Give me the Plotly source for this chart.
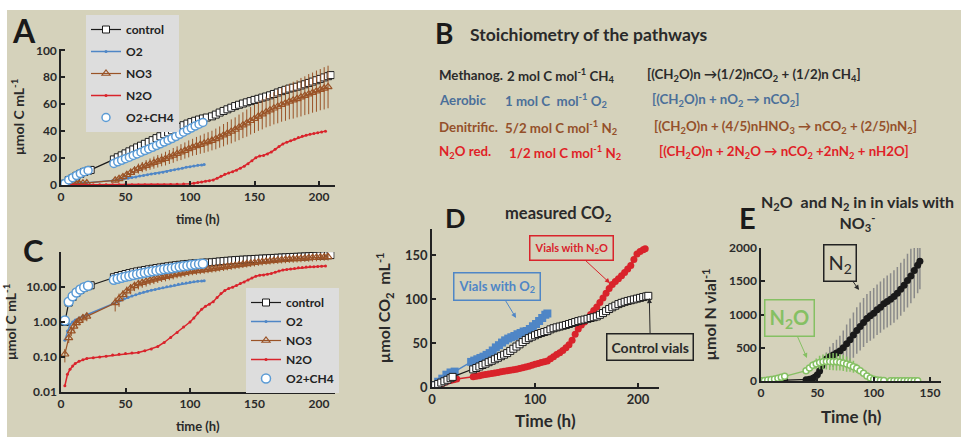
import plotly.graph_objects as go

# ---------------- Panels A and C: cumulative C (µmol C mL-1) ----------------
ctrl_t = [3, 6, 9, 12, 15, 18, 21, 23,
          41, 44, 47, 50, 53, 56, 59, 62, 65, 68, 71, 74, 77, 80, 83, 86, 89, 92, 95, 98,
          101, 104, 107, 110, 113, 117, 120, 123, 126, 129, 132, 135, 138, 141, 144, 147,
          150, 153, 156, 159, 162, 165, 168, 171, 174, 177, 180, 183, 186, 189, 192, 195,
          198, 201, 204, 207, 209]
ctrl_v = [1.0, 3.6, 5.2, 6.8, 8.3, 9.7, 10.6, 11.2,
          19.0, 20.6, 22.0, 23.5, 25.0, 26.4, 27.9, 29.2, 30.6, 32.0, 33.3, 34.8, 36.2, 37.7,
          39.0, 40.6, 42.0, 43.2, 44.4, 45.6, 46.7, 47.7, 48.6, 49.4, 50.1, 51.0, 52.3, 53.8,
          55.0, 56.2, 57.4, 58.6, 59.6, 60.5, 61.4, 62.3, 63.2, 64.0, 64.9, 65.7, 66.6, 67.6,
          68.7, 69.7, 70.7, 71.6, 72.3, 73.0, 73.9, 74.8, 75.8, 76.8, 77.8, 78.8, 79.9, 80.8,
          81.6]

o2_t = [3, 5, 7, 9, 11, 14, 17, 20,
        40, 43, 46, 49, 52, 55, 58, 61, 64, 67, 70, 73, 76, 79, 82, 85, 88, 91, 94, 97,
        100, 103, 106, 109, 111]
o2_v = [0.3, 0.55, 0.85, 1.0, 1.15, 1.3, 1.45, 1.6,
        3.4, 3.7, 4.1, 4.6, 5.0, 5.5, 6.0, 6.6, 7.1, 7.6, 8.1, 8.5, 9.0, 9.5, 10.1, 10.7,
        11.3, 11.9, 12.5, 13.1, 13.6, 14.1, 14.6, 14.9, 15.2]

no3_t = [3, 6, 8, 10, 12, 14, 17, 20,
         42, 45, 48, 51, 54, 57, 60, 63, 66, 69, 72, 75, 78, 81, 84, 87, 90, 93, 96, 99,
         102, 105, 108, 111, 114, 117, 120, 123, 126, 129, 132, 135, 138, 141, 144, 147,
         150, 153, 156, 159, 162, 165, 168, 171, 174, 177, 180, 183, 186, 189, 192, 195,
         198, 201, 204, 207]
no3_v = [0.12, 0.35, 0.55, 0.75, 0.95, 1.1, 1.3, 1.45,
         3.5, 4.6, 6.0, 7.6, 9.2, 10.8, 12.2, 13.3, 14.4, 15.5, 16.6, 17.6, 18.6, 19.6,
         20.8, 22.0, 23.2, 24.4, 25.6, 26.8, 28.0, 29.0, 30.0, 31.0, 32.0, 33.0, 34.2, 35.6,
         37.0, 38.4, 39.8, 41.2, 42.8, 44.4, 46.0, 47.7, 49.3, 51.0, 52.6, 54.2, 55.6, 57.0,
         58.3, 59.6, 60.8, 62.0, 63.0, 64.0, 65.2, 66.3, 67.5, 68.6, 69.7, 70.8, 71.8, 72.8]
no3_err = [0.05, 0.1, 0.15, 0.2, 0.25, 0.3, 0.35, 0.4,
           1.5, 1.9, 2.1, 2.7, 3.0, 3.2, 3.7, 3.8, 4.1, 4.2, 4.5, 4.6, 4.7, 5.1, 5.2, 5.5,
           5.5, 5.9, 6.0, 6.3, 6.3, 6.7, 6.8, 7.1, 7.2, 7.3, 7.7, 7.9, 8.3, 8.4, 8.9, 9.0,
           9.5, 9.6, 10.1, 10.2, 10.7, 10.8, 11.3, 11.4, 11.9, 12.0, 12.5, 12.6, 13.1, 13.2,
           13.7, 13.8, 14.3, 14.4, 14.9, 14.9, 15.3, 15.3, 15.7, 15.8]

n2o_t = [3, 5, 7, 9, 11, 14, 17, 20,
         25, 30, 35, 40, 45, 50, 55, 60, 65, 70, 75, 80, 85, 90, 95, 100,
         103, 106, 109, 112, 115, 118, 121, 124, 127, 130, 133, 136, 139, 142, 145, 148,
         151, 154, 157, 160, 163, 166, 169, 172, 175, 178, 181, 184, 187, 190, 193, 196,
         199, 202, 205]
n2o_v = [0.015, 0.032, 0.045, 0.055, 0.065, 0.075, 0.083, 0.09,
         0.095, 0.1, 0.105, 0.115, 0.12, 0.125, 0.13, 0.135, 0.15, 0.17, 0.2, 0.26, 0.36,
         0.5, 0.72, 1.0,
         1.3, 1.8, 2.3, 2.8, 3.2, 3.8, 5.0, 6.5, 8.0, 9.0, 9.8, 11.0, 12.5, 14.0, 15.8, 18.0,
         20.3, 21.5, 22.0, 23.0, 24.5, 26.5, 28.5, 30.5, 31.8, 32.8, 34.0, 35.2, 36.2, 37.0,
         37.6, 38.2, 38.8, 39.3, 40.0]

o2ch4_t = [3, 6, 9, 12, 15, 18, 21,
           41, 44, 47, 50, 53, 56, 59, 62, 65, 68, 71, 74, 77, 80, 83, 86, 89, 92, 95, 98,
           101, 104, 107, 110]
o2ch4_v = [1.1, 3.8, 5.4, 7.0, 8.5, 9.9, 10.8,
           16.0, 17.2, 18.3, 19.5, 20.6, 21.9, 23.1, 24.4, 25.6, 26.8, 28.0, 29.3, 30.6,
           31.9, 33.2, 34.5, 36.0, 37.6, 39.2, 40.8, 42.3, 43.8, 45.2, 46.5]

# ---------------- Panel D: measured CO2 (µmol CO2 mL-1) ----------------
d_ctrl_t = [3, 6, 9, 12, 15, 18, 20,
            40, 43, 46, 49, 52, 55, 58, 61, 64, 67, 70, 73, 76, 79, 82, 85, 88, 91, 94, 97,
            100, 103, 106, 109, 112, 115, 118, 121, 124, 127, 130, 133, 136, 139, 142, 145,
            148, 151, 154, 157, 160, 163, 166, 169, 172, 175, 178, 181, 184, 187, 190, 193,
            196, 199, 202, 205, 208, 210]
d_ctrl_v = [2.0, 3.5, 5.0, 6.5, 8.2, 10.0, 11.5,
            20.0, 21.6, 23.3, 25.0, 26.5, 28.2, 29.8, 31.5, 33.2, 35.0, 36.7, 38.5, 41.0,
            43.5, 46.0, 48.5, 51.0, 53.5, 55.5, 57.2, 58.8, 60.2, 61.4, 62.5, 63.5, 65.5,
            66.8, 67.8, 68.7, 69.6, 70.5, 71.6, 72.7, 73.8, 74.9, 75.8, 76.6, 77.5, 78.4,
            79.3, 80.2, 82.0, 84.0, 86.2, 88.6, 90.6, 92.4, 94.2, 95.6, 96.8, 97.8, 98.6,
            99.5, 100.4, 101.3, 102.2, 103.0, 103.6]

d_o2_t = [2, 6, 10, 14, 18, 22,
          38, 41, 44, 47, 50, 53, 56, 59, 62, 65, 68, 71, 74, 77, 80, 83, 86, 89, 92, 95,
          98, 101, 104, 107, 110, 112]
d_o2_v = [2.3, 6.0, 9.5, 14.0, 16.5, 17.5,
          28.5, 30.0, 31.5, 33.0, 34.5, 36.5, 38.5, 41.5, 45.0, 47.5, 50.5, 53.0, 55.0,
          56.5, 58.0, 60.0, 61.5, 63.0, 63.5, 66.0, 69.0, 71.5, 75.0, 78.5, 82.0, 83.5]

d_n2o_t = [3, 6, 9, 12, 15, 18, 21, 24,
           40, 43, 46, 49, 52, 55, 58, 61, 64, 67, 70, 73, 76, 79, 82, 85, 88, 91, 94, 97,
           100, 103, 106, 109, 112, 115, 118, 121, 124, 127, 130, 133, 136, 139, 142, 145,
           148, 151, 154, 157, 160, 163, 166, 169, 172, 175, 178, 181, 184, 187, 190, 193,
           196, 199, 202, 205, 207]
d_n2o_v = [0.5, 2.0, 3.5, 5.0, 6.5, 7.5, 8.3, 9.0,
           11.7, 12.3, 12.9, 13.5, 14.1, 14.8, 15.4, 16.0, 16.6, 17.2, 17.8, 18.4, 19.0,
           19.6, 20.3, 21.0, 21.8, 22.7, 23.7, 24.8, 25.8, 26.8, 27.8, 28.6, 29.5, 32.0,
           34.5, 36.8, 39.0, 41.5, 44.5, 48.0, 53.0, 60.0, 66.0, 70.5, 74.0, 78.0, 82.5,
           87.0, 91.0, 96.0, 101.0, 106.5, 112.0, 116.5, 120.0, 123.0, 126.5, 130.0, 134.0,
           138.0, 145.0, 151.0, 154.0, 156.0, 157.0]

# ---------------- Panel E: N2O and N2 in vials with NO3- (µmol N vial-1) ----------------
e_n2_t = [0, 3, 6, 9, 12, 15, 18, 21,
          40, 43, 46, 48, 50, 52, 54, 56, 58,
          61, 64, 67, 70, 73, 76, 79, 82, 85, 88, 91, 94, 97, 100, 103, 106, 109, 112, 115,
          118, 121, 124, 127, 130, 133, 136, 139, 141]
e_n2_v = [0, 2, 4, 6, 8, 10, 12, 14,
          20, 25, 40, 60, 95, 150, 230, 290, 330,
          365, 390, 420, 450, 500, 560, 620, 690, 760, 820, 880, 940, 980, 1020, 1070, 1110,
          1160, 1195, 1230, 1270, 1320, 1380, 1440, 1510, 1580, 1660, 1740, 1800]
e_n2_err = [0, 0, 0, 0, 0, 0, 0, 0,
            5, 5, 10, 15, 25, 35, 50, 70, 100,
            150, 180, 200, 230, 260, 290, 320, 340, 350, 360, 370, 370, 375, 380, 380, 385,
            385, 390, 390, 395, 395, 400, 400, 405, 410, 415, 420, 420]

e_n2o_t = [0, 3, 6, 9, 12, 15, 18, 21,
           40, 43, 46, 49, 52, 55, 58, 61, 64, 67, 70, 73, 76, 79, 82, 85, 88, 91, 94, 97,
           100, 103, 106, 109,
           115, 118, 121, 124, 127, 130, 133, 136, 139]
e_n2o_v = [0, 8, 15, 22, 30, 40, 55, 70,
           155, 195, 235, 260, 278, 288, 292, 292, 290, 288, 282, 270, 255, 238, 215, 190,
           155, 115, 75, 45, 25, 15, 10, 8,
           5, 4, 3, 3, 3, 3, 3, 2, 2]
e_n2o_err = [0, 2, 3, 4, 5, 6, 8, 10,
             20, 40, 60, 80, 100, 110, 120, 125, 130, 130, 125, 120, 115, 100, 90, 70,
             50, 35, 20, 10, 5, 3, 2, 2,
             1, 1, 1, 1, 1, 1, 1, 1, 1]

# ---------------- styling ----------------
W, H = 961, 437
FONT = "Lato"
BG = "#d5d2bb"
INK = "#222222"
C_CTRL = "#1a1a1a"
C_O2 = "#4f86c6"
C_NO3 = "#9a5327"
C_N2O = "#d9232b"
C_CH4 = "#5b9bd5"
C_GREEN = "#85c063"


def px_x(p):
    return p / W


def px_y(p):
    return 1 - p / H


fig = go.Figure()


def add_carbon_traces(xa, ya, legend_name, sq=7, circ=8):
    fig.add_trace(go.Scatter(
        x=ctrl_t, y=ctrl_v, name="control", mode="lines+markers", xaxis=xa, yaxis=ya,
        legend=legend_name, legendgroup=legend_name + "c",
        line=dict(color=C_CTRL, width=1.2),
        marker=dict(symbol="square", size=sq, color="white", line=dict(color=C_CTRL, width=1))))
    fig.add_trace(go.Scatter(
        x=o2_t, y=o2_v, name="O2", mode="lines+markers", xaxis=xa, yaxis=ya,
        legend=legend_name, legendgroup=legend_name + "o",
        line=dict(color=C_O2, width=1.5),
        marker=dict(symbol="circle", size=3, color=C_O2)))
    fig.add_trace(go.Scatter(
        x=no3_t, y=no3_v, name="NO3", mode="lines+markers", xaxis=xa, yaxis=ya,
        legend=legend_name, legendgroup=legend_name + "n",
        line=dict(color=C_NO3, width=1.2),
        marker=dict(symbol="triangle-up-open", size=7, color=C_NO3, line=dict(width=1.2)),
        error_y=dict(type="data", array=no3_err, color=C_NO3, thickness=1, width=0)))
    fig.add_trace(go.Scatter(
        x=n2o_t, y=n2o_v, name="N2O", mode="lines+markers", xaxis=xa, yaxis=ya,
        legend=legend_name, legendgroup=legend_name + "r",
        line=dict(color=C_N2O, width=1.5),
        marker=dict(symbol="circle", size=3, color=C_N2O)))
    fig.add_trace(go.Scatter(
        x=o2ch4_t, y=o2ch4_v, name="O2+CH4", mode="markers", xaxis=xa, yaxis=ya,
        legend=legend_name, legendgroup=legend_name + "m",
        marker=dict(symbol="circle", size=circ, color="white", line=dict(color=C_CH4, width=1.5))))


add_carbon_traces("x", "y", "legend")
add_carbon_traces("x2", "y2", "legend2", sq=7, circ=9)

# Panel D
fig.add_trace(go.Scatter(
    x=d_o2_t, y=d_o2_v, mode="lines+markers", xaxis="x3", yaxis="y3", showlegend=False,
    line=dict(color=C_O2, width=1.5),
    marker=dict(symbol="square", size=8, color=C_O2)))
fig.add_trace(go.Scatter(
    x=d_n2o_t, y=d_n2o_v, mode="lines+markers", xaxis="x3", yaxis="y3", showlegend=False,
    line=dict(color=C_N2O, width=1.5),
    marker=dict(symbol="circle", size=7, color=C_N2O)))
fig.add_trace(go.Scatter(
    x=d_ctrl_t, y=d_ctrl_v, mode="lines+markers", xaxis="x3", yaxis="y3", showlegend=False,
    line=dict(color=C_CTRL, width=1.2),
    marker=dict(symbol="square", size=7, color="white", line=dict(color=C_CTRL, width=1))))

# Panel E
fig.add_trace(go.Scatter(
    x=e_n2_t, y=e_n2_v, mode="lines+markers", xaxis="x4", yaxis="y4", showlegend=False,
    line=dict(color=C_CTRL, width=1.2),
    marker=dict(symbol="circle", size=7, color=C_CTRL),
    error_y=dict(type="data", array=e_n2_err, color="#8a8a8a", thickness=1.5, width=0)))
fig.add_trace(go.Scatter(
    x=e_n2o_t, y=e_n2o_v, mode="lines+markers", xaxis="x4", yaxis="y4", showlegend=False,
    line=dict(color=C_GREEN, width=1.2),
    marker=dict(symbol="circle", size=6, color="white", line=dict(color=C_GREEN, width=1.5)),
    error_y=dict(type="data", array=e_n2o_err, color=C_GREEN, thickness=1.5, width=0)))


def axis(domain, rng, tickvals, anchor, size=12, title=None, tsize=13, standoff=6, **kw):
    d = dict(domain=domain, range=rng, tickvals=tickvals, anchor=anchor,
             showline=True, linecolor=INK, linewidth=1.5, ticks="inside", ticklen=4,
             tickwidth=1.5, tickcolor=INK, showgrid=False, zeroline=False, automargin=False,
             tickfont=dict(family=FONT, size=size, color="#2a2a2a", weight="bold"))
    if title:
        d["title"] = dict(text=title, standoff=standoff,
                          font=dict(family=FONT, size=tsize, color="#2a2a2a", weight="bold"))
    d.update(kw)
    return d


xdomA = [px_x(61), px_x(334.5)]
xdomD = [px_x(432), px_x(658.6)]
xdomE = [px_x(761), px_x(941.3)]

fig.update_layout(
    width=W, height=H, margin=dict(l=0, r=0, t=0, b=0),
    paper_bgcolor=BG, plot_bgcolor="rgba(0,0,0,0)",
    font=dict(family=FONT, color=INK),
    xaxis=axis(xdomA, [0, 212], [0, 50, 100, 150, 200], "y", title="time (h)", tsize=13, standoff=12),
    yaxis=axis([px_y(185), px_y(49)], [0, 101], [0, 20, 40, 60, 80, 100], "x",
               title="µmol C mL<sup>-1</sup>", tsize=14, standoff=8),
    xaxis2=axis(xdomA, [0, 212], [0, 50, 100, 150, 200], "y2", title="time (h)", tsize=13, standoff=12),
    yaxis2=axis([px_y(392), px_y(252)], [-2, 2], [0.01, 0.1, 1, 10], "x2", type="log",
                ticktext=["0.01", "0.10", "1.00", "10.00"],
                title="µmol C mL<sup>-1</sup>", tsize=14, standoff=8),
    xaxis3=axis(xdomD, [0, 220], [0, 100, 200], "y3", size=13,
                title="Time (h)", tsize=17, standoff=9),
    yaxis3=axis([px_y(387), px_y(228.6)], [0, 180], [0, 50, 100, 150], "x3", size=13,
                title="µmol CO<sub>2</sub>  mL<sup>-1</sup>", tsize=16, standoff=10),
    xaxis4=axis(xdomE, [0, 160], [0, 50, 100, 150], "y4", size=12,
                title="Time (h)", tsize=17, standoff=12),
    yaxis4=axis([px_y(381), px_y(248)], [0, 2000], [0, 500, 1000, 1500, 2000], "x4", size=12,
                title="µmol N vial<sup>-1</sup>", tsize=16, standoff=8),
    legend=dict(x=px_x(86), y=px_y(15), xanchor="left", yanchor="top", bgcolor="#dddddd",
                font=dict(family=FONT, size=12, color=INK, weight="bold"),
                tracegroupgap=3, itemwidth=30),
    legend2=dict(x=px_x(246), y=px_y(288), xanchor="left", yanchor="top", bgcolor="#dddddd",
                 font=dict(family=FONT, size=12, color=INK, weight="bold"),
                 tracegroupgap=0, itemwidth=30),
)

# white page edge along the top and left
fig.add_shape(type="rect", xref="paper", yref="paper", x0=0, x1=1, y0=px_y(10), y1=1,
              fillcolor="white", line_width=0, layer="below")
fig.add_shape(type="rect", xref="paper", yref="paper", x0=0, x1=px_x(7), y0=0, y1=1,
              fillcolor="white", line_width=0, layer="below")


def text(x, y, s, size, color=INK, bold=True, xanchor="center", **kw):
    fig.add_annotation(x=px_x(x), y=px_y(y), xref="paper", yref="paper", text=s,
                       showarrow=False, xanchor=xanchor, yanchor="middle",
                       font=dict(family=FONT, size=size, color=color,
                                 weight="bold" if bold else "normal"), **kw)


# panel letters
text(24, 31, "A", 32, "#1a1a1a")
text(444, 33, "B", 28, "#1a1a1a")
text(33, 250, "C", 31, "#1a1a1a")
text(455, 218, "D", 27, "#1a1a1a")
text(747, 218, "E", 29, "#1a1a1a")

# Panel B: stoichiometry table
text(468, 35, "Stoichiometry of the pathways", 17.5, "#2a2a2a", xanchor="left")
rows = [
    (75, "#2b2b2b", "Methanog.", 505, "2 mol C mol<sup>-1</sup> CH<sub>4</sub>", 645,
     "[(CH<sub>2</sub>O)n →(1/2)nCO<sub>2</sub> + (1/2)n CH<sub>4</sub>]"),
    (100, "#4b6f99", "Aerobic", 503, "1 mol C  mol<sup>-1</sup> O<sub>2</sub>", 650,
     "[(CH<sub>2</sub>O)n + nO<sub>2</sub> → nCO<sub>2</sub>]"),
    (127, "#94502a", "Denitrific.", 503, "5/2 mol C mol<sup>-1</sup> N<sub>2</sub>", 652,
     "[(CH<sub>2</sub>O)n + (4/5)nHNO<sub>3</sub> → nCO<sub>2</sub> + (2/5)nN<sub>2</sub>]"),
    (152, "#e01f27", "N<sub>2</sub>O red.", 507, "1/2 mol C mol<sup>-1</sup> N<sub>2</sub>", 657,
     "[(CH<sub>2</sub>O)n + 2N<sub>2</sub>O → nCO<sub>2</sub> +2nN<sub>2</sub> + nH2O]"),
]
for y, col, name, x2, ratio, x3, eq in rows:
    text(437, y, name, 13.3, col, xanchor="left")
    text(x2, y, ratio, 13.3, col, xanchor="left")
    text(x3, y, eq, 13.3, col, xanchor="left")

# Panel D title and callouts
text(558, 213, "measured CO<sub>2</sub>", 16.5, "#2a2a2a")


def callout(xa, ya, x, y, axv, ayv, s, size, color, bold=True, border=None):
    fig.add_annotation(x=x, y=y, ax=axv, ay=ayv, xref=xa, yref=ya, axref=xa, ayref=ya,
                       text=s, showarrow=True, arrowhead=2, arrowsize=1, arrowwidth=1,
                       arrowcolor=color, bordercolor=border or color, borderwidth=1.5,
                       borderpad=4,
                       font=dict(family=FONT, size=size, color=color,
                                 weight="bold" if bold else "normal"))


callout("x3", "y3", 81.6, 78.4, 63.1, 114.2, "Vials with O<sub>2</sub>", 13, C_O2)
callout("x3", "y3", 172.8, 118, 135.9, 158, "Vials with N<sub>2</sub>O", 11, C_N2O)
callout("x3", "y3", 211, 101, 212, 45.5, "Control vials", 14, "#2a2a2a", border=INK)

# Panel E title and callouts
text(857, 213, "N<sub>2</sub>O  and N<sub>2</sub> in in vials with<br>NO<sub>3</sub><sup>-</sup>", 16, "#2a2a2a")
callout("x4", "y4", 87, 1368, 70.1, 1774, "N<sub>2</sub>", 20, "#2a2a2a", bold=False, border=INK)
callout("x4", "y4", 40.8, 346, 25.3, 940, "N<sub>2</sub>O", 20, C_GREEN)

fig.write_html("out.html")
